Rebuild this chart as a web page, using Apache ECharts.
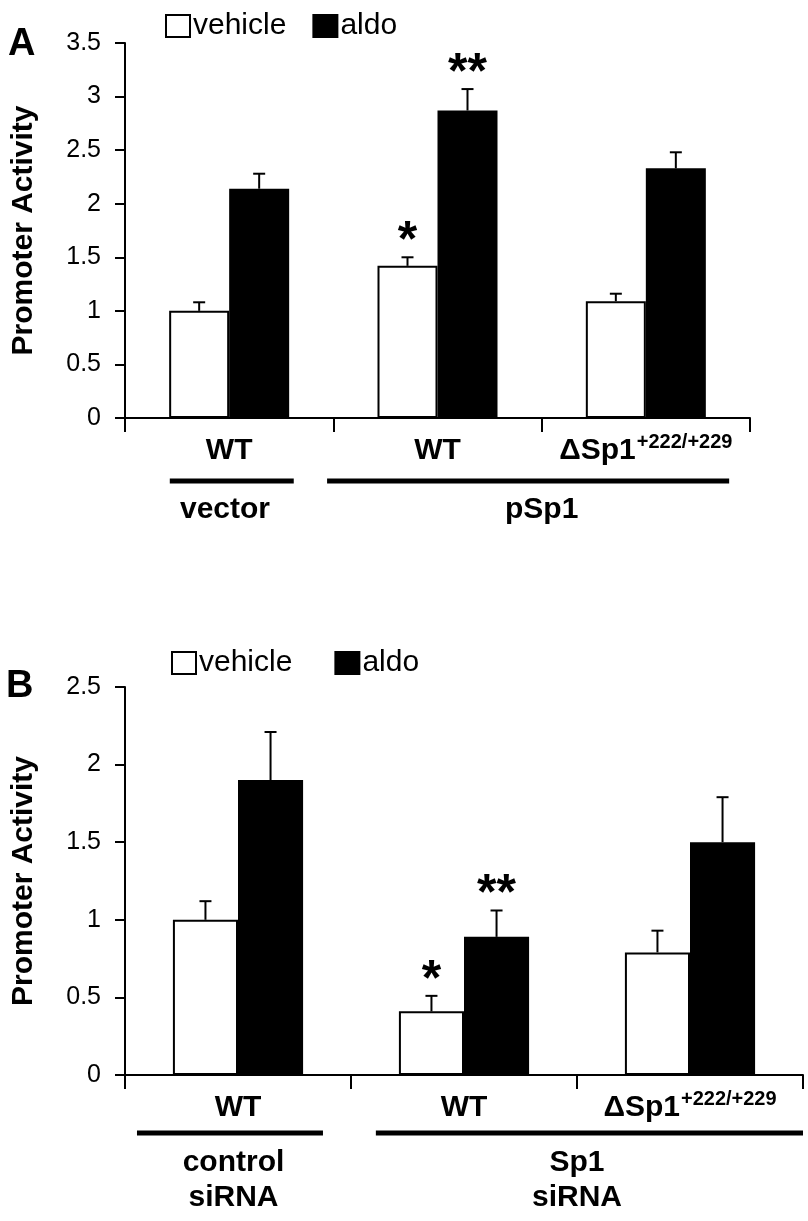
<!DOCTYPE html>
<html><head><meta charset="utf-8">
<script src="https://cdn.jsdelivr.net/npm/echarts@6/dist/echarts.min.js"></script>
<style>html,body{margin:0;padding:0;background:#fff}#c{width:808px;height:1221px}</style>
</head><body><div id="c"></div><script>
// ---------- data ----------
const seriesNames = ['vehicle', 'aldo'];
const categoriesA = ['WT', 'WT', 'ΔSp1'];
const vehicleA = [1.00, 1.42, 1.09];
const vehicleErrA = [0.08, 0.08, 0.07];
const aldoA = [2.14, 2.87, 2.33];
const aldoErrA = [0.14, 0.20, 0.15];
const starsVehicleA = ['', '*', ''];
const starsAldoA = ['', '**', ''];
const groupLabelsA = ['vector', 'pSp1'];
const yMaxA = 3.5;

const categoriesB = ['WT', 'WT', 'ΔSp1'];
const vehicleB = [1.00, 0.41, 0.79];
const vehicleErrB = [0.12, 0.10, 0.14];
const aldoB = [1.90, 0.89, 1.50];
const aldoErrB = [0.31, 0.17, 0.29];
const starsVehicleB = ['', '*', ''];
const starsAldoB = ['', '**', ''];
const groupLabelsB = ['control\nsiRNA', 'Sp1\nsiRNA'];
const yMaxB = 2.5;
const yInterval = 0.5;
const mutantSup = '+222/+229';

// ---------- chart ----------
const FONT = "'Liberation Sans', Arial, sans-serif";
const BAR_W = 0.288;
const chart = echarts.init(document.getElementById('c'), null, {renderer: 'canvas'});

function catLabel(v) {
  if (v.indexOf('Δ') === 0) return '{b|' + v + '}{s|' + mutantSup + '}';
  return '{b|' + v + '}';
}

function errSeries(name, vals, errs, stars, side, axisIdx) {
  return {
    type: 'custom', name: name + ' err', xAxisIndex: axisIdx, yAxisIndex: axisIdx,
    z: 5, silent: true,
    data: vals.map((v, i) => [i, v, errs[i]]),
    renderItem: function (params, api) {
      const i = params.dataIndex;
      const x = api.value(0), v = api.value(1), e = api.value(2);
      const base = api.coord([x, v]);
      const top = api.coord([x, v + e]);
      const band = api.size([1, 0])[0];
      const cx = base[0] + side * band * BAR_W / 2;
      const children = [
        {type: 'line', shape: {x1: cx, y1: base[1], x2: cx, y2: top[1]}, style: {stroke: '#000', lineWidth: 2}},
        {type: 'line', shape: {x1: cx - 6, y1: top[1], x2: cx + 6, y2: top[1]}, style: {stroke: '#000', lineWidth: 2}}
      ];
      if (stars[i]) {
        children.push({type: 'text', x: cx, y: top[1] + 10,
          style: {text: stars[i], font: 'bold 50px ' + FONT, fill: '#000', align: 'center', verticalAlign: 'bottom'}});
      }
      return {type: 'group', children: children};
    }
  };
}

function barSeries(name, vals, axisIdx, color) {
  return {
    type: 'bar', name: name, xAxisIndex: axisIdx, yAxisIndex: axisIdx,
    data: vals, barWidth: (BAR_W * 100) + '%', barGap: '0%',
    itemStyle: {color: color, borderColor: '#000', borderWidth: 2},
    emphasis: {disabled: true}
  };
}

const xAxisCommon = {
  type: 'category',
  axisLine: {lineStyle: {color: '#000', width: 2}},
  axisTick: {show: true, length: 14, lineStyle: {color: '#000', width: 2}, alignWithLabel: false},
  axisLabel: {
    formatter: catLabel, margin: 14, color: '#000',
    rich: {
      b: {fontFamily: FONT, fontWeight: 'bold', fontSize: 30, color: '#000', lineHeight: 34, verticalAlign: 'bottom'},
      s: {fontFamily: FONT, fontWeight: 'bold', fontSize: 20, color: '#000', lineHeight: 34, verticalAlign: 'top', padding: [0, 0, 0, 1]}
    }
  },
  splitLine: {show: false}
};
const yAxisCommon = {
  type: 'value', min: 0, interval: yInterval,
  name: 'Promoter Activity', nameLocation: 'middle', nameRotate: 90, nameGap: 86,
  nameTextStyle: {fontFamily: FONT, fontWeight: 'bold', fontSize: 30, color: '#000'},
  axisLine: {show: true, lineStyle: {color: '#000', width: 2}},
  axisTick: {show: true, length: 10, lineStyle: {color: '#000', width: 2}},
  axisLabel: {fontFamily: FONT, fontSize: 25, color: '#000', margin: 24},
  splitLine: {show: false}
};

const legendCommon = {
  data: seriesNames, icon: 'rect', itemWidth: 24, itemHeight: 22, selectedMode: false,
  textStyle: {fontFamily: FONT, fontSize: 30, color: '#000', padding: [0, 0, 0, -2]}
};

chart.setOption({
  animation: false,
  backgroundColor: '#fff',
  textStyle: {fontFamily: FONT},
  legend: [
    Object.assign({left: 160, top: 6, itemGap: 26}, legendCommon),
    Object.assign({left: 166, top: 643, itemGap: 42}, legendCommon)
  ],
  grid: [
    {left: 125, top: 43, width: 625, height: 375, containLabel: false, outerBoundsMode: 'none'},
    {left: 125, top: 687, width: 678, height: 388, containLabel: false, outerBoundsMode: 'none'}
  ],
  xAxis: [
    Object.assign({gridIndex: 0, data: categoriesA}, xAxisCommon),
    Object.assign({gridIndex: 1, data: categoriesB}, xAxisCommon)
  ],
  yAxis: [
    Object.assign({gridIndex: 0, max: yMaxA}, yAxisCommon),
    Object.assign({gridIndex: 1, max: yMaxB}, yAxisCommon)
  ],
  series: [
    barSeries('vehicle', vehicleA, 0, '#fff'),
    barSeries('aldo', aldoA, 0, '#000'),
    errSeries('vehicle', vehicleA, vehicleErrA, starsVehicleA, -1, 0),
    errSeries('aldo', aldoA, aldoErrA, starsAldoA, 1, 0),
    barSeries('vehicle', vehicleB, 1, '#fff'),
    barSeries('aldo', aldoB, 1, '#000'),
    errSeries('vehicle', vehicleB, vehicleErrB, starsVehicleB, -1, 1),
    errSeries('aldo', aldoB, aldoErrB, starsAldoB, 1, 1)
  ]
});

// group annotation lines / labels, positioned from the axes
function groupGraphics(axisIdx, labels, spans, lineDy, textDy) {
  const c0 = chart.convertToPixel({xAxisIndex: axisIdx}, 0);
  const c1 = chart.convertToPixel({xAxisIndex: axisIdx}, 1);
  const band = c1 - c0;
  const y0 = chart.convertToPixel({yAxisIndex: axisIdx}, 0);
  const out = [];
  spans.forEach((sp, k) => {
    const xa = chart.convertToPixel({xAxisIndex: axisIdx}, sp[0]) + sp[1] * band;
    const xb = chart.convertToPixel({xAxisIndex: axisIdx}, sp[2]) + sp[3] * band;
    out.push({type: 'rect', shape: {x: xa, y: y0 + lineDy - 2.5, width: xb - xa, height: 5}, style: {fill: '#000'}});
    const tc = chart.convertToPixel({xAxisIndex: axisIdx}, sp[4]) + sp[5] * band;
    out.push({type: 'text', x: tc, y: y0 + textDy,
      style: {text: labels[k], font: 'bold 30px ' + FONT, fill: '#000', align: 'center', verticalAlign: 'top', lineHeight: 35}});
  });
  return out;
}

const gfx = [
  {type: 'text', left: 8, top: 26, style: {text: 'A', font: 'bold 38px ' + FONT, fill: '#000'}},
  {type: 'text', left: 6, top: 668, style: {text: 'B', font: 'bold 38px ' + FONT, fill: '#000'}}
].concat(
  groupGraphics(0, groupLabelsA, [[0, -0.285, 0, 0.31, 0, -0.02], [1, -0.53, 2, 0.40, 1, 0.5]], 63, 74),
  groupGraphics(1, groupLabelsB, [[0, -0.447, 0, 0.376, 0, -0.02], [1, -0.39, 2, 0.5, 1, 0.5]], 58, 70)
);
chart.setOption({graphic: gfx});
</script></body></html>
